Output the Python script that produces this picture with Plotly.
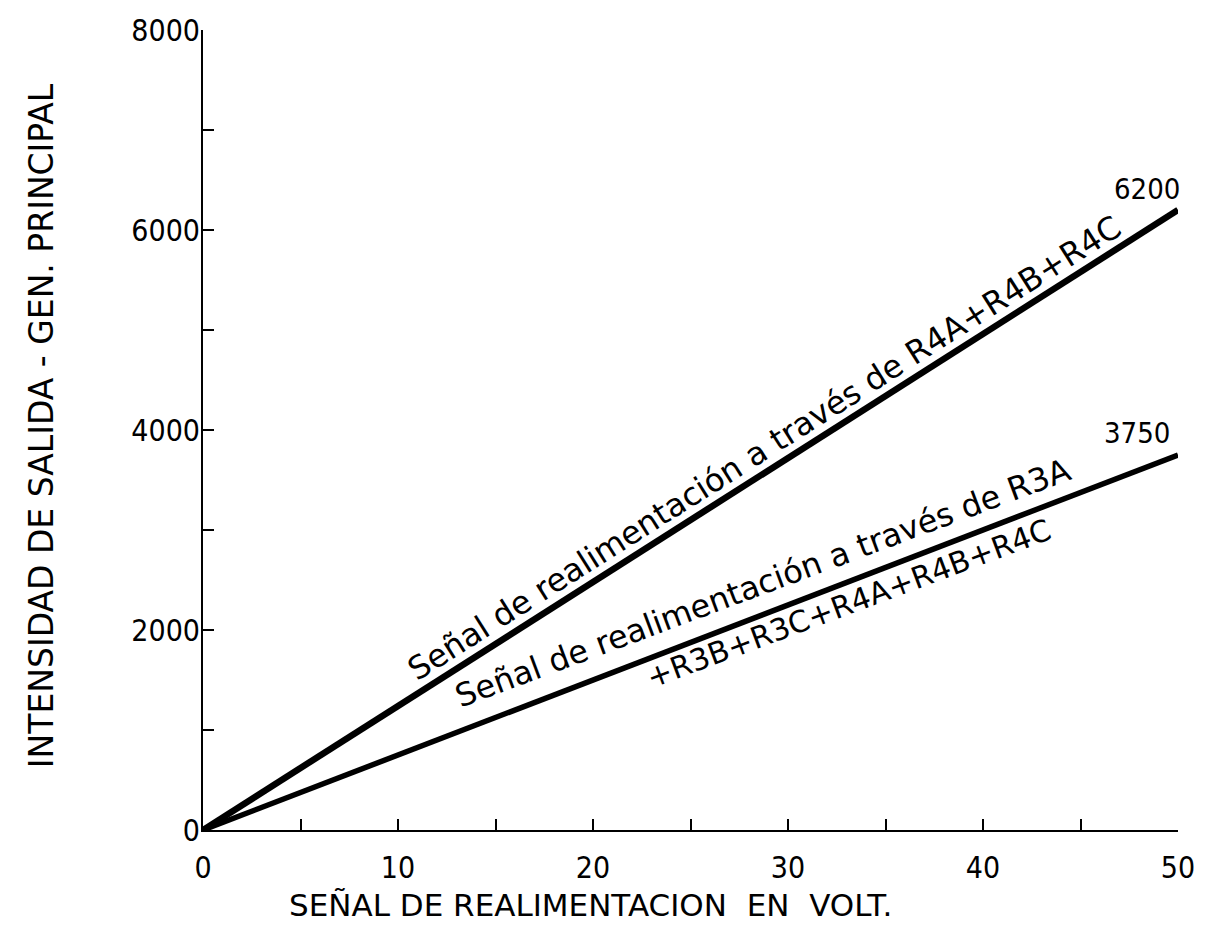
import plotly.graph_objects as go

# Feedback signal (V) and main-generator output current for the two feedback paths
volts = [0, 50]
amps_r4 = [0, 6200]      # via R4A+R4B+R4C
amps_r3r4 = [0, 3750]    # via R3A+R3B+R3C+R4A+R4B+R4C

x_ticks = list(range(0, 51, 5))
x_labels = [str(v) if v % 10 == 0 else "" for v in x_ticks]
y_ticks = list(range(0, 8001, 1000))
y_labels = [str(v) if v % 2000 == 0 else "" for v in y_ticks]

narrow = "DejaVu Sans Condensed, Liberation Sans, sans-serif"
tick_font = dict(family=narrow, size=30, color="black")
ytitle_font = dict(family="DejaVu Sans", size=33, color="black")
xtitle_font = dict(family="DejaVu Sans", size=31, color="black")
note_font = dict(family="DejaVu Sans", size=32, color="black")
sum_font = dict(family="DejaVu Sans", size=30, color="black")
value_font = dict(family=narrow, size=29, color="black")

fig = go.Figure()
fig.add_trace(go.Scatter(x=volts, y=amps_r4, mode="lines",
                         line=dict(color="black", width=6.5), showlegend=False))
fig.add_trace(go.Scatter(x=volts, y=amps_r3r4, mode="lines",
                         line=dict(color="black", width=5.5), showlegend=False))

annotations = [
    dict(x=28.8, y=3820, text="Señal de realimentación a través de R4A+R4B+R4C",
         textangle=-32.4, font=note_font),
    dict(x=28.7, y=2470, text="Señal de realimentación a través de R3A",
         textangle=-20.5, font=note_font),
    dict(x=33.1, y=2270, text="+R3B+R3C+R4A+R4B+R4C",
         textangle=-20.5, font=sum_font),
    dict(x=48.4, y=6414, text="6200", font=value_font),
    dict(x=47.9, y=3970, text="3750", font=value_font),
    dict(x=-0.166, y=0.505, xref="paper", yref="paper",
         text="INTENSIDAD DE SALIDA - GEN. PRINCIPAL", textangle=-90, font=ytitle_font),
    dict(x=0.397, y=-0.0935, xref="paper", yref="paper",
         text="SEÑAL DE REALIMENTACION  EN  VOLT.", font=xtitle_font),
]
for a in annotations:
    a.setdefault("xref", "x")
    a.setdefault("yref", "y")
    a.update(showarrow=False, xanchor="center", yanchor="middle")

fig.update_layout(
    width=1207, height=934,
    margin=dict(l=203, r=24, t=28, b=104),
    paper_bgcolor="white", plot_bgcolor="white",
    annotations=annotations,
    xaxis=dict(range=[0, 50], tickvals=x_ticks, ticktext=x_labels,
               ticks="inside", ticklen=11, tickwidth=2, tickcolor="black",
               showline=True, linewidth=2, linecolor="black",
               showgrid=False, zeroline=False, tickfont=tick_font,
               ticklabelstandoff=10),
    yaxis=dict(range=[0, 8000], tickvals=y_ticks, ticktext=y_labels,
               ticks="inside", ticklen=11, tickwidth=2, tickcolor="black",
               showline=True, linewidth=2, linecolor="black",
               showgrid=False, zeroline=False, tickfont=tick_font,
               ticklabelstandoff=-5),
)

fig.write_html("out.html")
